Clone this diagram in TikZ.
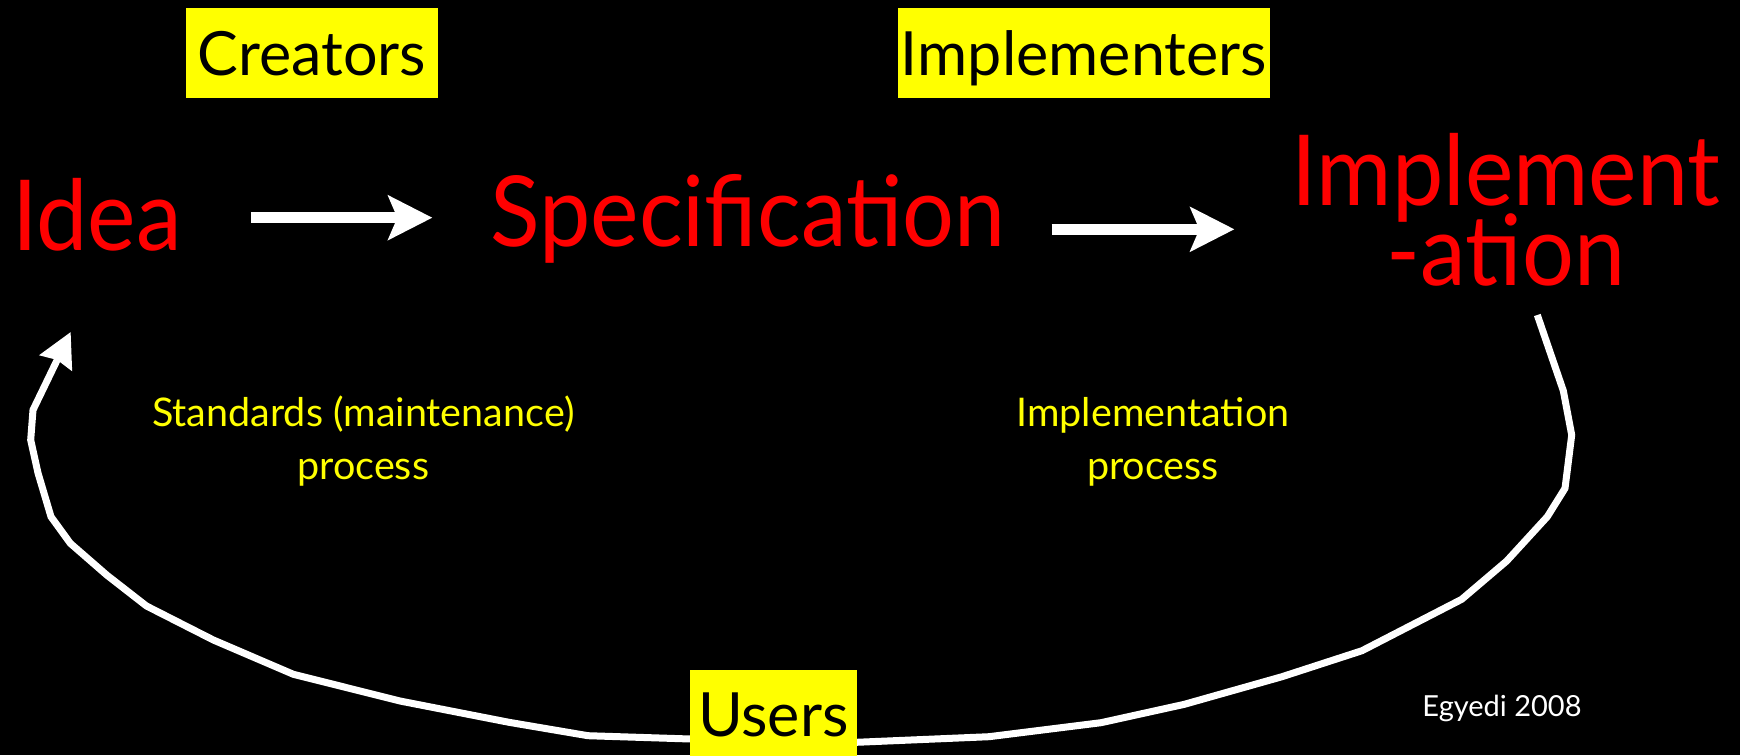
\documentclass[tikz,border=0pt]{standalone}
\usepackage{fontspec}
\setmainfont{Lato}
\newfontfamily\redfamily[FakeStretch=0.935]{Lato}
\usetikzlibrary{arrows.meta,calc}
\definecolor{hl}{RGB}{255,255,0}
\definecolor{rd}{RGB}{255,0,0}
\begin{document}
\begin{tikzpicture}[x=1pt,y=-1pt,
  redtxt/.style={text=rd, inner sep=0pt, font={\redfamily\fontsize{98}{80.7}\selectfont\lineskiplimit=-200pt\lineskip=0pt}},
  tagbox/.style={fill=hl, text=black, inner sep=0pt, minimum height=90pt, text height=44pt, text depth=0pt, font=\fontsize{61}{61}\selectfont},
  proclabel/.style={text=hl, inner sep=0pt, align=center, font={\fontsize{39.5}{52.6}\selectfont\lineskiplimit=-200pt\lineskip=0pt}},
  flowarrow/.style={draw=white, line width=10.7pt, -{Stealth[length=44pt,width=44pt,inset=9pt]}},
  loopline/.style={draw=white, line width=7pt},
  credit/.style={text=white, inner sep=0pt, font=\fontsize{29}{29}\selectfont},
]
\fill[black] (0,0) rectangle (1740,755);
\useasboundingbox (0,0) rectangle (1740,755);

% top labels
\node[tagbox, minimum width=252pt] (creators) at (312,53.3) {Creators};
\node[tagbox, minimum width=372.3pt] (implementers) at (1083.9,53.3) {Implementers};

% main stages
\node[redtxt, anchor=base] (idea) at (97,250.7) {Idea};
\node[redtxt, anchor=base] (spec) at (748,246.7) {Specification};
\node[redtxt, anchor=south, align=center] (impl) at (1506,286.7) {Implement\\-ation};

% process labels (base anchor = last line)
\node[proclabel, anchor=base] (stdproc) at (363.3,479.3) {Standards (maintenance)\\process};
\node[proclabel, anchor=base] (implproc) at (1153,479.3) {Implementation\\process};

% flow arrows
\coordinate (ya) at (0,217.7);
\coordinate (yb) at (0,229.3);
\draw[flowarrow, shorten <=69pt, shorten >=58pt] (idea.east |- ya) -- (spec.west |- ya);
\draw[flowarrow, shorten <=46pt, shorten >=57pt] (spec.east |- yb) -- (impl.west |- yb);

% loop back through users
\node[tagbox, minimum width=166.7pt, inner sep=0pt] (users) at (773.3,714.7) {};
\draw[loopline] ($(impl.south)+(31.3,28.3)$) -- (1563.3,390.7) -- (1571.7,435) -- (1565,488.3)
  -- (1547.3,516.7) -- (1506.7,561) -- (1461.7,599.3) -- (1362,650.7) -- (1282,676.7)
  -- (1184.4,704.3) -- (1101,722.7) -- (989,736.7) -- ($(users.east)+(-10,28)$);
\draw[loopline, -{Stealth[length=34pt,width=35pt,inset=3pt]}] ($(users.west)+(10,24.6)$)
  -- (588,735.7) -- (509,722.3) -- (400,701) -- (293.4,674.3) -- (213.4,640) -- (146.5,606)
  -- (106.7,575) -- (70.3,543.3) -- (51,516.7) -- (38,473) -- (30.7,440) -- (33,410)
  -- ($(idea.south)+(-26.3,80.3)$);
\node[tagbox, minimum width=166.7pt] at (users) {Users};

\node[credit, anchor=base] (egyedi) at (1502,716) {Egyedi 2008};
\end{tikzpicture}
\end{document}
